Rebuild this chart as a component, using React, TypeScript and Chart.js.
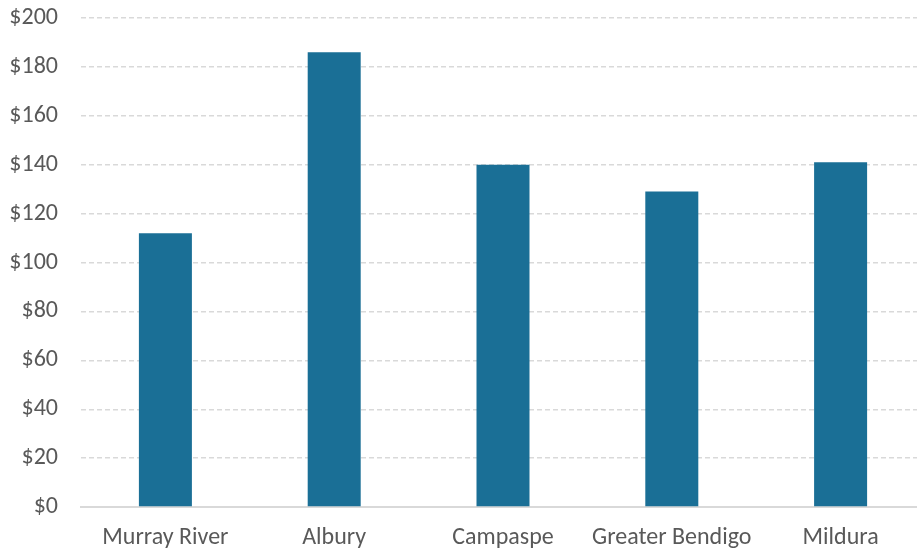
import React, { useEffect, useRef } from "react";
import { Chart, registerables } from "chart.js";

Chart.register(...registerables);

// Average weekly spend per region
const regions = ["Murray River", "Albury", "Campaspe", "Greater Bendigo", "Mildura"];
const spend = [112, 186, 140, 129, 141];
const yTicks = [0, 20, 40, 60, 80, 100, 120, 140, 160, 180, 200];

const BAR_COLOR = "#1a6f96";
const GRID_COLOR = "#d9d9d9";
const TEXT_COLOR = "#595959";
const FONT = "Carlito, Calibri, Lato, 'Open Sans', sans-serif";

export default function App() {
  const canvasRef = useRef<HTMLCanvasElement | null>(null);

  useEffect(() => {
    const canvas = canvasRef.current;
    if (!canvas) return;
    const chart = new Chart(canvas, {
      type: "bar",
      data: {
        labels: regions,
        datasets: [
          {
            data: spend,
            backgroundColor: BAR_COLOR,
            borderWidth: 0,
            categoryPercentage: 1,
            barPercentage: 0.314,
          },
        ],
      },
      options: {
        animation: false,
        responsive: false,
        maintainAspectRatio: false,
        layout: { padding: { top: 18, right: 0, bottom: 0, left: 0 } },
        plugins: {
          legend: { display: false },
          tooltip: { enabled: false },
        },
        scales: {
          x: {
            afterFit: (axis: any) => {
              axis.height = 45;
              axis.paddingLeft = 0;
              axis.paddingRight = 0;
            },
            grid: { display: false, drawTicks: false },
            border: { display: true, color: GRID_COLOR, width: 2 },
            ticks: {
              color: TEXT_COLOR,
              font: { family: FONT, size: 24 },
              padding: 17,
              maxRotation: 0,
              autoSkip: false,
            },
          },
          y: {
            min: 0,
            max: 200,
            afterBuildTicks: (axis: any) => {
              axis.ticks = yTicks.map((v) => ({ value: v }));
            },
            afterFit: (axis: any) => {
              axis.width = 81;
              axis.paddingTop = 0;
              axis.paddingBottom = 0;
            },
            grid: {
              color: GRID_COLOR,
              lineWidth: 1.4,
              drawTicks: false,
            },
            border: { display: false, dash: [5, 3] },
            ticks: {
              color: TEXT_COLOR,
              font: { family: FONT, size: 24 },
              padding: 23,
              callback: (v: any) => "$" + v,
            },
          },
        },
      },
    });
    return () => chart.destroy();
  }, []);

  return (
    <div
      style={{
        position: "fixed",
        left: 0,
        top: 0,
        width: 917,
        height: 552,
        overflow: "hidden",
        background: "#ffffff",
      }}
    >
      <canvas ref={canvasRef} width={925} height={552} style={{ display: "block" }} />
    </div>
  );
}
